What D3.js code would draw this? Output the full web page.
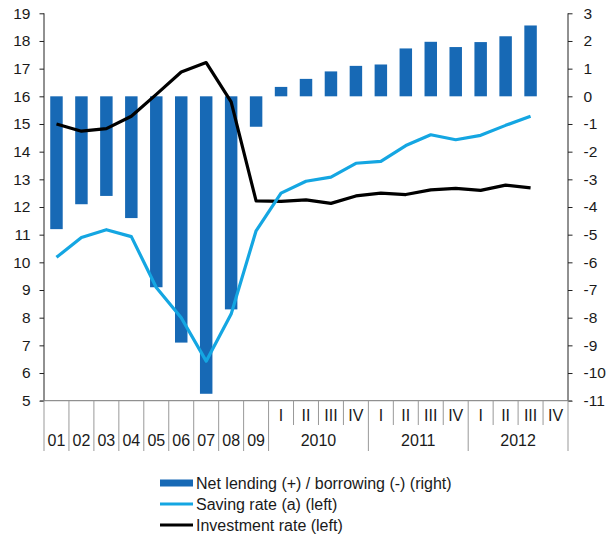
<!DOCTYPE html>
<html>
<head>
<meta charset="utf-8">
<script src="https://cdn.jsdelivr.net/npm/d3@7"></script>
<style>
  body { margin: 0; background: #fff; }
  svg text { font-family: "Liberation Sans", Arial, sans-serif; fill: #1a1a1a; }
</style>
</head>
<body>
<svg id="chart" width="607" height="539"></svg>
<script>
// categories: 2001-2009 annual, then quarters 2010-2012
var annualLabels = ['01', '02', '03', '04', '05', '06', '07', '08', '09'];
var years = ['2010', '2011', '2012'];
var quarterLabels = ['I', 'II', 'III', 'IV'];

// net lending / borrowing, right axis (% of GDP)
var netLending = [-4.8, -3.9, -3.6, -4.4, -6.9, -8.9, -10.75, -7.7, -1.1,
  0.34, 0.63, 0.9, 1.1, 1.15, 1.73, 1.97, 1.78, 1.96, 2.17, 2.56, null];
// saving rate, left axis
var savingRate = [10.18, 10.9, 11.18, 10.93, 9.09, 8.0, 6.43, 8.13, 11.14,
  12.5, 12.93, 13.08, 13.58, 13.65, 14.22, 14.61, 14.43, 14.59, 14.95, 15.28, null];
// investment rate, left axis
var investmentRate = [15.0, 14.74, 14.83, 15.28, 16.07, 16.88, 17.22, 15.8, 12.22,
  12.2, 12.26, 12.13, 12.4, 12.5, 12.45, 12.62, 12.67, 12.6, 12.79, 12.69, null];

var leftTicks = d3.range(5, 20);
var rightTicks = d3.range(-11, 4);

// build the category list
var cats = annualLabels.map(function(a) { return {key: a, label: a, annual: true}; });
years.forEach(function(y) {
  quarterLabels.forEach(function(q, i) {
    cats.push({key: y + q, label: q, year: y, qi: i, annual: false});
  });
});

var svg = d3.select('#chart');
// note: "top" is taken by window.top, so use other names
var plotLeft = 44, plotRight = 568, plotTop = 13.3, plotBottom = 400.7;

var x = d3.scaleBand().domain(cats.map(function(c) { return c.key; })).range([plotLeft, plotRight]);
var yL = d3.scaleLinear().domain([5, 19]).range([plotBottom, plotTop]);
var yR = d3.scaleLinear().domain([-11, 3]).range([plotBottom, plotTop]);

var barColor = '#1769b5';
var savingColor = '#14a6e2';

// bars
svg.append('g').selectAll('rect')
  .data(cats.map(function(c, i) { return {c: c, v: netLending[i]}; }).filter(function(d) { return d.v !== null; }))
  .enter().append('rect')
  .attr('x', function(d) { return x(d.c.key) + x.bandwidth() * 0.25; })
  .attr('width', x.bandwidth() * 0.5)
  .attr('y', function(d) { return Math.min(yR(d.v), yR(0)); })
  .attr('height', function(d) { return Math.abs(yR(d.v) - yR(0)); })
  .attr('fill', barColor);

// lines
var line = d3.line()
  .defined(function(d) { return d.v !== null; })
  .x(function(d) { return x(d.c.key) + x.bandwidth() / 2; })
  .y(function(d) { return yL(d.v); });

function series(vals) {
  return cats.map(function(c, i) { return {c: c, v: vals[i]}; });
}

svg.append('path').datum(series(investmentRate))
  .attr('d', line).attr('fill', 'none')
  .attr('stroke', '#000').attr('stroke-width', 3.2).attr('stroke-linejoin', 'round');

svg.append('path').datum(series(savingRate))
  .attr('d', line).attr('fill', 'none')
  .attr('stroke', savingColor).attr('stroke-width', 3.2).attr('stroke-linejoin', 'round');

// left axis
var axL = svg.append('g').attr('transform', 'translate(' + plotLeft + ',0)')
  .call(d3.axisLeft(yL).tickValues(leftTicks).tickSize(4.5).tickPadding(9).tickFormat(d3.format('d')));
// right axis
var axR = svg.append('g').attr('transform', 'translate(' + plotRight + ',0)')
  .call(d3.axisRight(yR).tickValues(rightTicks).tickSize(4.5).tickPadding(11).tickFormat(d3.format('d')));

[axL, axR].forEach(function(ax) {
  ax.select('.domain').attr('d', 'M0,' + plotTop + 'V' + plotBottom).attr('stroke', '#222');
  ax.selectAll('.tick line').attr('stroke', '#222');
  ax.selectAll('.tick text').attr('font-size', 15.5).attr('fill', '#1a1a1a')
    .attr('font-family', '"Liberation Sans", Arial, sans-serif');
});
axR.selectAll('.tick text').text(function(d) { return d; });

// category axis: baseline + separators
var xa = svg.append('g');
xa.append('line').attr('x1', plotLeft - 4).attr('x2', plotRight + 4)
  .attr('y1', plotBottom).attr('y2', plotBottom).attr('stroke', '#777');

var sepBottomFull = 451, sepBottomShort = 425;
var seps = [plotLeft];
cats.forEach(function(c) { seps.push(x(c.key) + x.bandwidth()); });
xa.selectAll('line.sep').data(seps).enter().append('line')
  .attr('class', 'sep')
  .attr('x1', function(d) { return d; }).attr('x2', function(d) { return d; })
  .attr('y1', plotBottom)
  .attr('y2', function(d, i) {
    if (i === 0) return sepBottomFull;
    var c = cats[i - 1];
    if (c.annual || c.qi === 3) return sepBottomFull;
    return sepBottomShort;
  })
  .attr('stroke', '#999').attr('stroke-width', 1);

// annual labels and quarter labels
xa.selectAll('text.cat').data(cats).enter().append('text')
  .attr('class', 'cat')
  .attr('x', function(c) { return x(c.key) + x.bandwidth() / 2; })
  .attr('y', function(c) { return c.annual ? 446 : 421; })
  .attr('text-anchor', 'middle').attr('font-size', 16)
  .text(function(c) { return c.label; });

// year labels centred under their 4 quarters
xa.selectAll('text.year').data(years).enter().append('text')
  .attr('class', 'year')
  .attr('x', function(y) { return (x(y + 'I') + x(y + 'IV') + x.bandwidth()) / 2; })
  .attr('y', 446).attr('text-anchor', 'middle').attr('font-size', 16)
  .text(function(y) { return y; });

// legend
var legendItems = [
  {label: 'Net lending (+) / borrowing (-) (right)', type: 'bar', color: barColor},
  {label: 'Saving rate (a) (left)', type: 'line', color: savingColor},
  {label: 'Investment rate (left)', type: 'line', color: '#000'}
];
var lg = svg.append('g').attr('transform', 'translate(160,483)');
var rows = lg.selectAll('g').data(legendItems).enter().append('g')
  .attr('transform', function(d, i) { return 'translate(0,' + (i * 21) + ')'; });
rows.append('rect')
  .attr('x', 0).attr('width', 33)
  .attr('y', function(d) { return d.type === 'bar' ? -3.5 : -1.5; })
  .attr('height', function(d) { return d.type === 'bar' ? 7 : 3; })
  .attr('fill', function(d) { return d.color; });
rows.append('text').attr('x', 36).attr('y', 5.5).attr('font-size', 16)
  .text(function(d) { return d.label; });
</script>
</body>
</html>
